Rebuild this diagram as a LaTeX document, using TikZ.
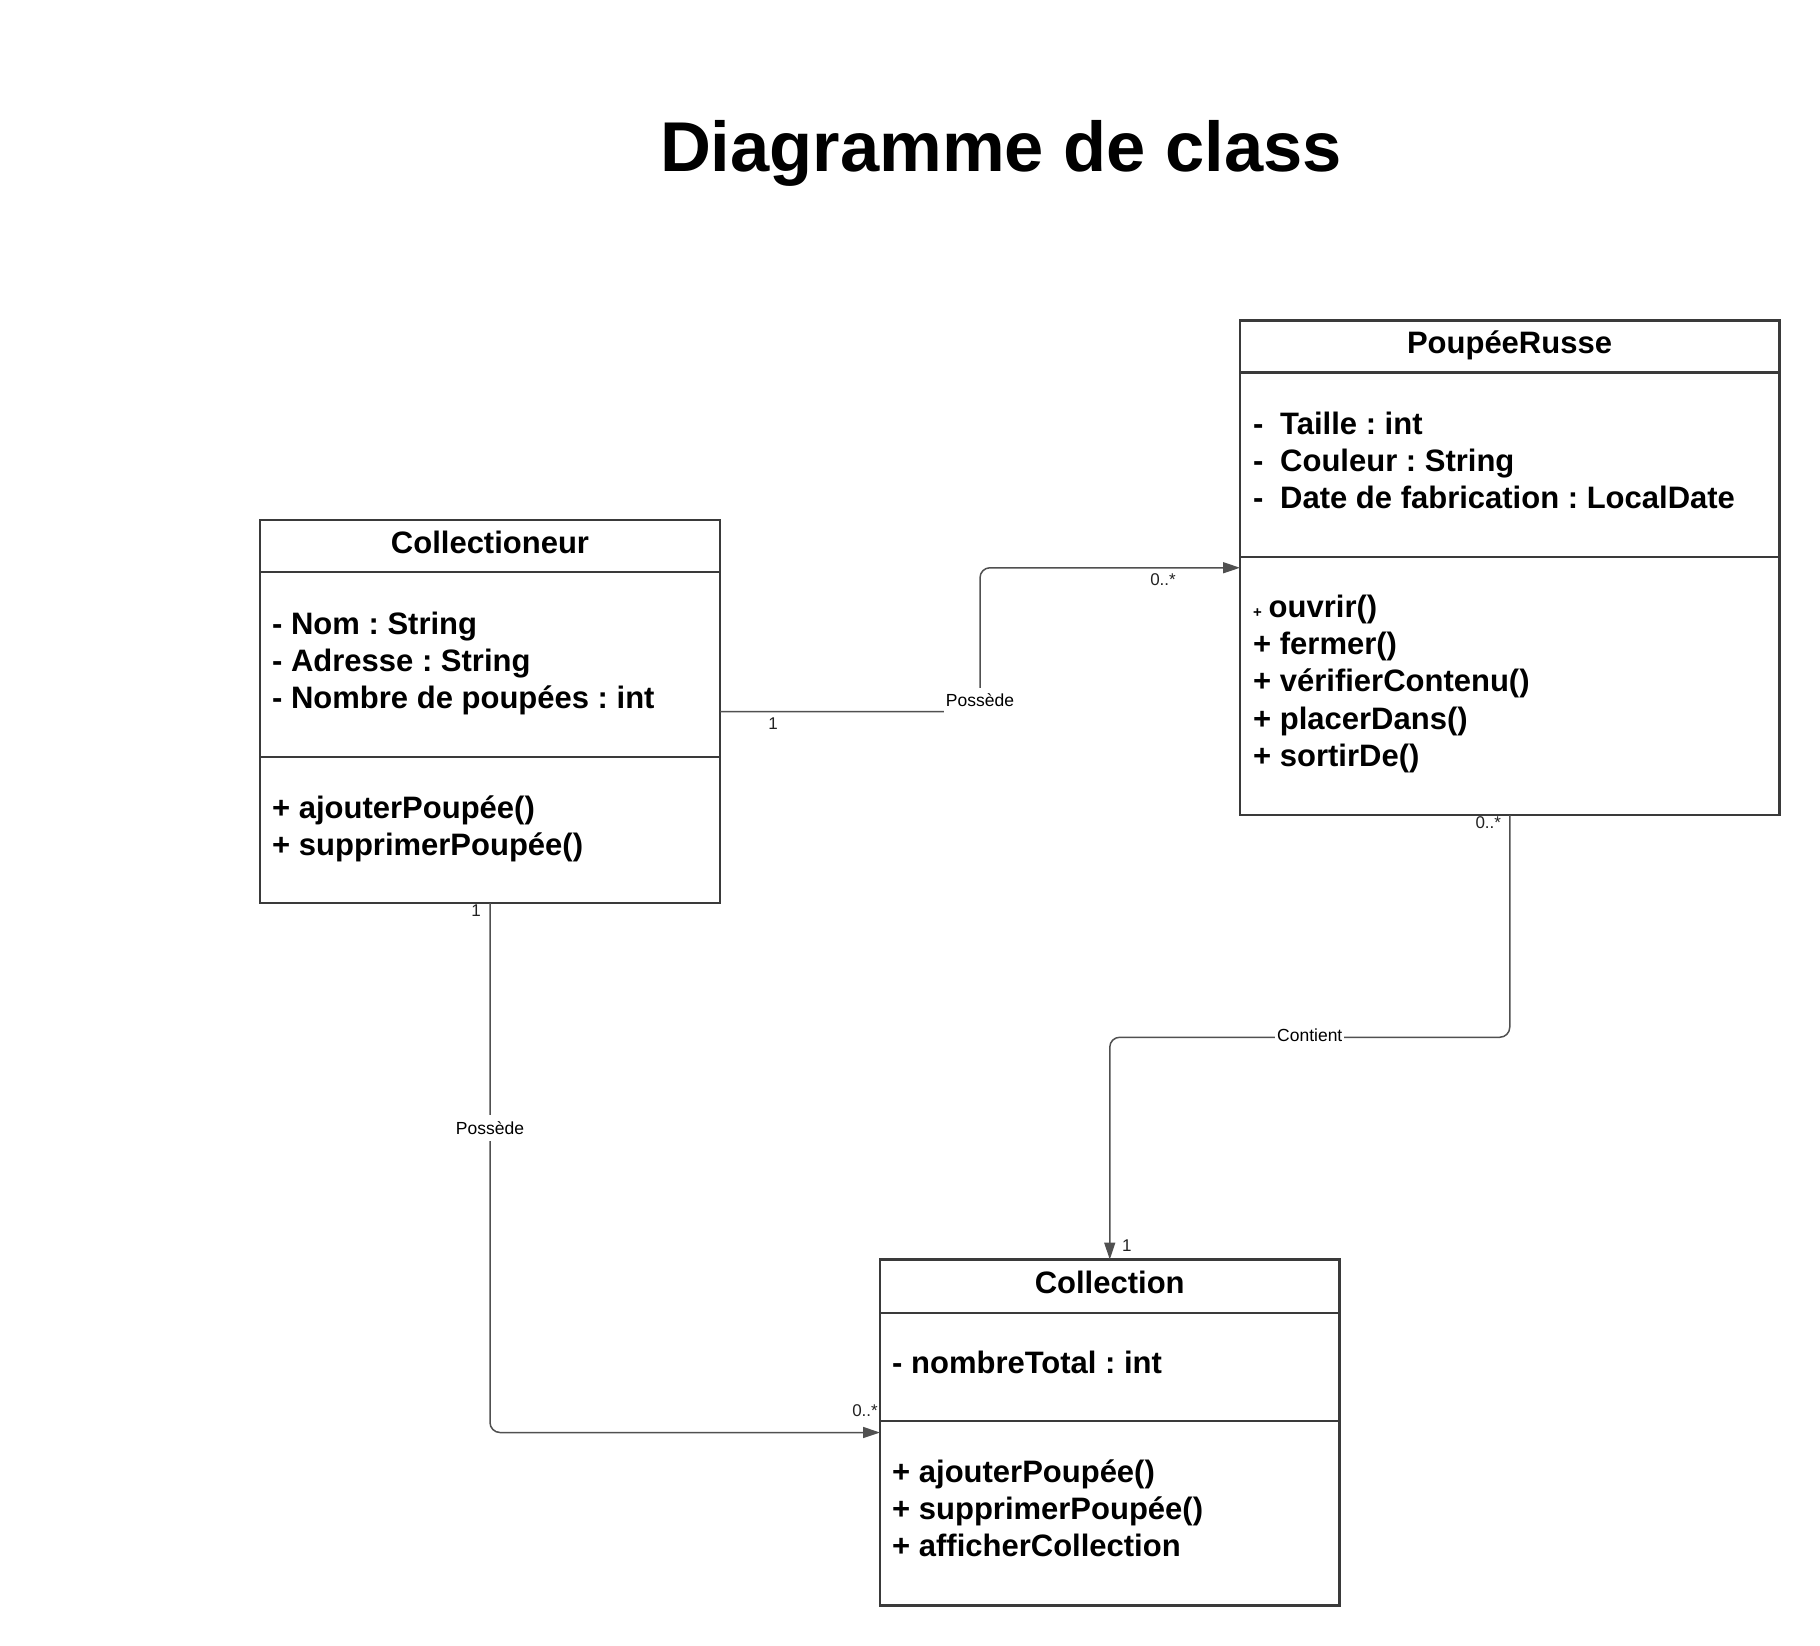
\documentclass[tikz,border=0pt]{standalone}
\usepackage{fontspec}
\setmainfont{Liberation Sans}
\usetikzlibrary{arrows.meta,calc}
\definecolor{boxgray}{HTML}{3A3A3A}
\definecolor{wiregray}{HTML}{505050}
\definecolor{inkgray}{HTML}{222222}
\frenchspacing

\begin{document}
\begin{tikzpicture}[x=1pt,y=-1pt,
  classbox/.style={draw=boxgray, fill=white, line width=2.4pt, inner sep=0pt, outer sep=0pt, anchor=north west},
  divider/.style={draw=boxgray, line width=2.4pt},
  heading/.style={font=\fontsize{31}{37}\selectfont\bfseries, anchor=base, inner sep=0pt},
  member/.style={font=\fontsize{31}{37}\selectfont\bfseries, anchor=base west, inner sep=0pt},
  tinyplus/.style={font=\fontsize{15}{18}\selectfont\bfseries, anchor=base west, inner sep=0pt},
  assoc/.style={draw=wiregray, line width=1.5pt, rounded corners=10pt, -{Triangle[length=17pt,width=11pt]}},
  rolelabel/.style={font=\fontsize{17.5}{21}\selectfont, fill=white, inner xsep=2pt, inner ysep=0pt, minimum height=26pt},
  mult/.style={font=\fontsize{17}{20}\selectfont, text=inkgray, inner sep=0pt},
  titletext/.style={font=\fontsize{70.5}{80}\selectfont\bfseries, anchor=base, inner sep=0pt}
]
\useasboundingbox (0,0) rectangle (1820,1646);
\fill[white] (0,0) rectangle (1820,1646);

% title
\node[titletext] (title) at (1001,171) {Diagramme de class};

% class boxes
\node[classbox, minimum width=460pt, minimum height=383pt] (collec) at (260,520) {};
\node[classbox, minimum width=539.5pt, minimum height=494.5pt] (poupee) at (1240,320.5) {};
\node[classbox, minimum width=459.5pt, minimum height=346pt] (collection) at (880,1259.5) {};

% compartment separators
\draw[divider] ($(collec.north west)+(0,52)$) -- ($(collec.north east)+(0,52)$);
\draw[divider] ($(collec.north west)+(0,237)$) -- ($(collec.north east)+(0,237)$);
\draw[divider] ($(poupee.north west)+(0,52)$) -- ($(poupee.north east)+(0,52)$);
\draw[divider] ($(poupee.north west)+(0,236.6)$) -- ($(poupee.north east)+(0,236.6)$);
\draw[divider] ($(collection.north west)+(0,53.3)$) -- ($(collection.north east)+(0,53.3)$);
\draw[divider] ($(collection.north west)+(0,161.2)$) -- ($(collection.north east)+(0,161.2)$);

% Collectioneur
\node[heading] (collecname) at (490,553) {Collectioneur};
\node[member] (ca1) at (272,634) {- Nom : String};
\node[member] (ca2) at (272,671) {- Adresse : String};
\node[member] (ca3) at (272,708) {- Nombre de poupées : int};
\node[member] (cm1) at (272,818) {+ ajouterPoupée()};
\node[member] (cm2) at (272,855) {+ supprimerPoupée()};

% PoupéeRusse
\node[heading] (poupeename) at (1509.5,353) {PoupéeRusse};
\node[member] (pd1) at (1253,434) {-};
\node[member] (pa1) at (1280,434) {Taille : int};
\node[member] (pd2) at (1253,471.5) {-};
\node[member] (pa2) at (1280,471.5) {Couleur : String};
\node[member] (pd3) at (1253,508.5) {-};
\node[member] (pa3) at (1280,508.5) {Date de fabrication : LocalDate};
\node[tinyplus] (pplus) at (1253,617.5) {+};
\node[member] (pm1) at (1268.5,617.5) {ouvrir()};
\node[member] (pm2) at (1253,654.7) {+ fermer()};
\node[member] (pm3) at (1253,691.8) {+ vérifierContenu()};
\node[member] (pm4) at (1253,729) {+ placerDans()};
\node[member] (pm5) at (1253,766) {+ sortirDe()};

% Collection
\node[heading] (collectionname) at (1109.7,1293) {Collection};
\node[member] (la1) at (892,1373) {- nombreTotal : int};
\node[member] (lm1) at (892,1482) {+ ajouterPoupée()};
\node[member] (lm2) at (892,1519) {+ supprimerPoupée()};
\node[member] (lm3) at (892,1556) {+ afficherCollection};

% Collectioneur -- PoupéeRusse
\coordinate (m1) at ($(collec.east)!0.5!(poupee.west)$);
\draw[assoc] (collec.east) -| (m1) |- (poupee.west);
\node[rolelabel] (possede1) at ($(collec.east -| m1)+(0,-11)$) {Possède};
\node[mult] (c1a) at ($(collec.east)+(53,12.5)$) {1};
\node[mult] (c1b) at ($(poupee.west)+(-77,11.5)$) {0..*};

% PoupéeRusse -- Collection
\coordinate (m2) at ($(poupee.south)!0.5!(collection.north)$);
\draw[assoc] (poupee.south) |- (m2) -| (collection.north);
\node[rolelabel] (contient) at ($(m2)+(0,-2)$) {Contient};
\node[mult] (c2a) at ($(poupee.south)+(-21.5,8)$) {0..*};
\node[mult] (c2b) at ($(collection.north)+(17,-14)$) {1};

% Collectioneur -- Collection
\draw[assoc] (collec.south) |- (collection.west);
\node[rolelabel] (possede2) at ($(collec.south)+(0,225)$) {Possède};
\node[mult] (c3a) at ($(collec.south)+(-14,8)$) {1};
\node[mult] (c3b) at ($(collection.west)+(-15,-22)$) {0..*};
\end{tikzpicture}
\end{document}
